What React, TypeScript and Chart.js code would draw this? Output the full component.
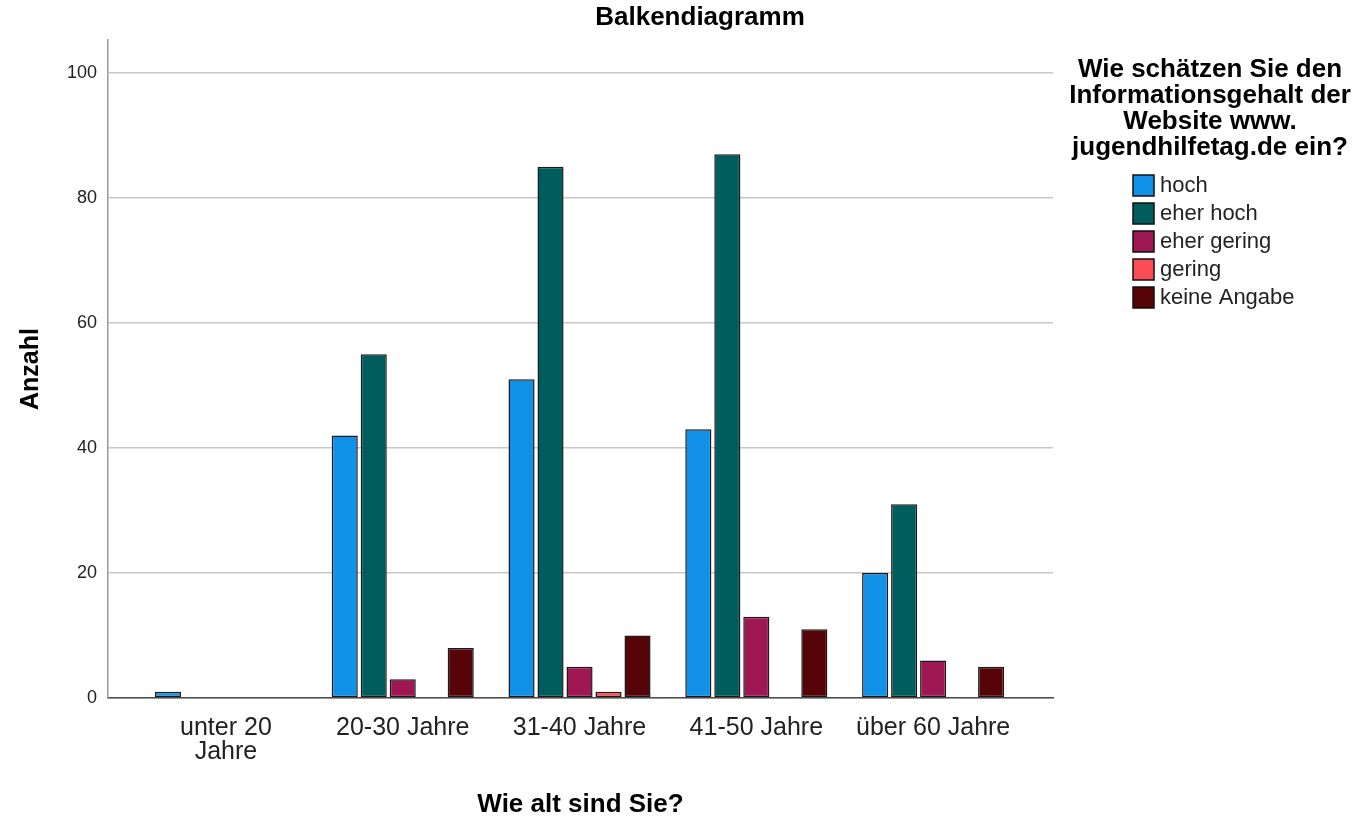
import React, { useEffect, useRef } from 'react';
import { Chart, registerables } from 'chart.js';

Chart.register(...registerables);

const chartTitle = 'Balkendiagramm';
const xTitle = 'Wie alt sind Sie?';
const yTitle = 'Anzahl';
const categories: (string | string[])[] = [['unter 20', 'Jahre'], '20-30 Jahre', '31-40 Jahre', '41-50 Jahre', 'über 60 Jahre'];
const seriesNames = ['hoch', 'eher hoch', 'eher gering', 'gering', 'keine Angabe'];
const hoch = [1, 42, 51, 43, 20];
const eherHoch = [0, 55, 85, 87, 31];
const eherGering = [0, 3, 5, 13, 6];
const gering = [0, 0, 1, 0, 0];
const keineAngabe = [0, 8, 10, 11, 5];
const seriesColors = ['#1192e8', '#005d5d', '#9f1853', '#fa4d56', '#570408'];
const yTicks = [0, 20, 40, 60, 80, 100];
const legendTitle = ['Wie schätzen Sie den', 'Informationsgehalt der', 'Website www.', 'jugendhilfetag.de ein?'];

const FONT = "'Liberation Sans', Arial, sans-serif";

const overlayPlugin = {
  id: 'overlay',
  afterDraw(chart: any) {
    const ctx = chart.ctx as CanvasRenderingContext2D;
    ctx.save();
    // Title
    ctx.fillStyle = '#000';
    ctx.font = `bold 26px ${FONT}`;
    ctx.textAlign = 'center';
    ctx.textBaseline = 'middle';
    ctx.fillText(chartTitle, 700, 18);
    // Legend title
    ctx.textBaseline = 'alphabetic';
    legendTitle.forEach((line, i) => {
      ctx.fillText(line, 1210, 77 + i * 26);
    });
    // Legend items
    ctx.textAlign = 'left';
    ctx.textBaseline = 'middle';
    ctx.font = `22px ${FONT}`;
    chart.data.datasets.forEach((ds: any, i: number) => {
      const top = 175 + i * 28;
      ctx.fillStyle = ds.backgroundColor;
      ctx.fillRect(1133, top, 21, 21);
      ctx.strokeStyle = '#111';
      ctx.lineWidth = 1.5;
      ctx.strokeRect(1133, top, 21, 21);
      ctx.fillStyle = '#222';
      ctx.fillText(ds.label, 1160, top + 11);
    });
    ctx.restore();
  },
};

export default function App() {
  const ref = useRef<HTMLCanvasElement>(null);
  useEffect(() => {
    document.body.style.margin = '0';
    Chart.defaults.font.family = FONT;
    const series = [hoch, eherHoch, eherGering, gering, keineAngabe];
    const chart = new Chart(ref.current!, {
      type: 'bar',
      data: {
        datasets: series.map((vals, si) => ({
          label: seriesNames[si],
          data: vals.map((v, i) => ({ x: i, y: v })),
          backgroundColor: seriesColors[si],
          borderColor: '#1a1a1a',
          borderWidth: 1.5,
          borderSkipped: false,
          categoryPercentage: 0.82,
          barPercentage: 0.9,
        })),
      },
      options: {
        animation: false,
        responsive: false,
        layout: { padding: { top: 40, right: 313, left: 0, bottom: 0 } },
        plugins: {
          legend: { display: false },
          title: { display: false },
          tooltip: { enabled: false },
        },
        scales: {
          x: {
            type: 'linear',
            min: -0.667,
            max: 4.678,
            offset: false,
            afterBuildTicks: (s: any) => {
              s.ticks = categories.map((_, i) => ({ value: i }));
            },
            afterFit: (s: any) => {
              s.height = 120;
            },
            ticks: {
              autoSkip: false,
              maxRotation: 0,
              padding: 18,
              color: '#222',
              font: { size: 25, lineHeight: '24px' },
              callback: (v: any) => categories[v as number],
            },
            grid: { display: false, drawTicks: false },
            border: { color: '#4d4d4d', width: 1.5 },
            title: {
              display: true,
              text: xTitle,
              color: '#000',
              font: { size: 26, weight: 'bold', lineHeight: 1.0 },
              padding: { top: 0, bottom: 0 },
            },
          },
          y: {
            min: 0,
            max: 105.3,
            afterBuildTicks: (s: any) => {
              s.ticks = yTicks.map((v) => ({ value: v }));
            },
            afterFit: (s: any) => {
              s.width = 108;
            },
            ticks: { color: '#222', padding: 11, font: { size: 18 } },
            grid: { color: '#c8c8c8', lineWidth: 1.5, drawTicks: false },
            border: { color: '#999', width: 1.5 },
            title: {
              display: true,
              text: yTitle,
              color: '#000',
              font: { size: 25, weight: 'bold' },
              padding: { top: 16, bottom: 0 },
            },
          },
        },
      } as any,
      plugins: [overlayPlugin],
    });
    return () => chart.destroy();
  }, []);
  return (
    <div style={{ width: 1366, height: 818 }}>
      <canvas ref={ref} width={1366} height={818} style={{ display: 'block' }} />
    </div>
  );
}
